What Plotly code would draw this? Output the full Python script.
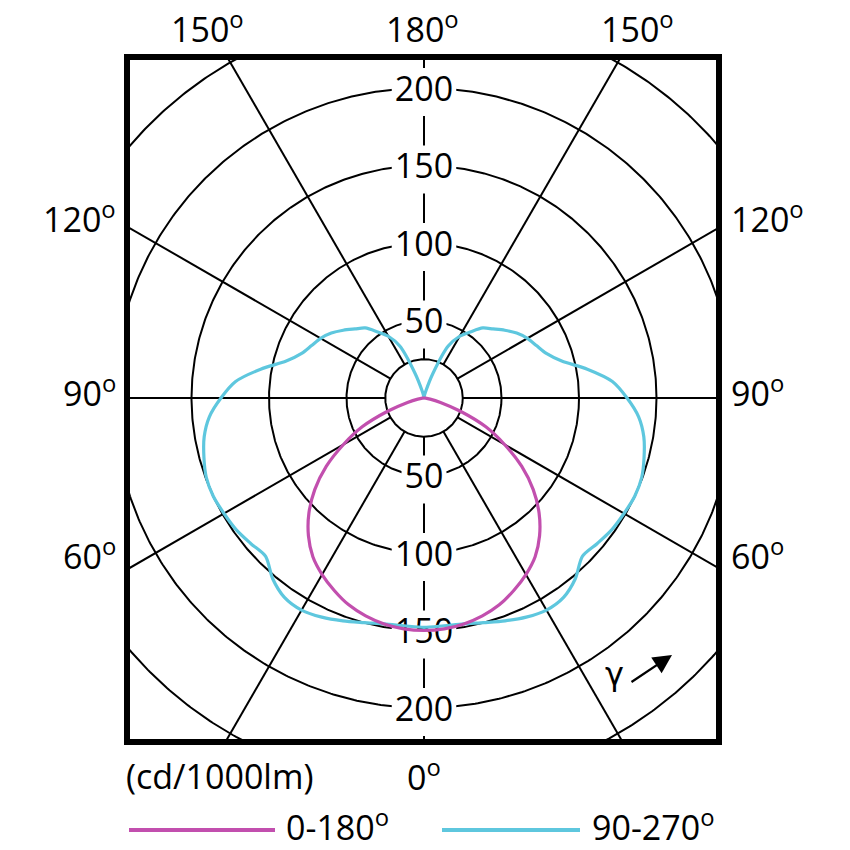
import numpy as np
import plotly.graph_objects as go

# ---------------- data ----------------
# C0-C180 plane (magenta), gamma in degrees, intensity in cd/1000lm
gamma_c0 = [0, 5, 10, 15, 20, 25, 30, 35, 40, 45, 50, 55, 60, 65, 70, 75, 80, 85, 90]
intensity_c0 = [150, 149.5, 148, 145.5, 142, 137, 131.5, 125, 116, 105, 92, 77, 60, 44, 25, 11, 4, 1, 0]

# C90-C270 plane (cyan)
gamma_c90 = [0, 5, 10, 15, 20, 25, 30, 35, 40, 45, 50, 55, 60, 65, 70, 75, 80, 85, 90,
             95, 100, 105, 110, 115, 120, 125, 130, 135, 140, 145, 150, 155, 160, 165, 170, 175, 180]
intensity_c90 = [148, 147.5, 148, 150, 153, 156, 158, 157, 152, 144.5, 146, 148, 149, 150, 149.5, 147, 144, 139, 131,
                 122, 107, 92, 84, 80, 77, 73, 68, 63, 59, 52, 46, 37, 17, 5, 1.5, 0.5, 0]

radial_ticks = [50, 100, 150, 200]
grid_circles = [25, 50, 100, 150, 200, 250]
spoke_angles = [0, 30, 60, 90, 120, 150, 180]
side_angle_labels = ["120", "90", "60"]
top_angle_labels = ["150", "180", "150"]
bottom_angle_label = "0"
unit_label = "(cd/1000lm)"
legend_names = ["0-180", "90-270"]

# ---------------- styling ----------------
FONT = "Open Sans"
MAGENTA = "#c24fae"
CYAN = "#5ec7de"
PX = 1.55  # pixels per cd/1000lm
W, H = 850, 850
ML, MR, MT, MB = 127, 131, 57, 108
CX, CY = 424, 398  # pixel position of the pole

x_range = [-(CX - ML) / PX, (W - MR - CX) / PX]
y_range = [-(H - MB - CY) / PX, (CY - MT) / PX]
PW = W - ML - MR
PH = H - MT - MB


def paper(px, py):
    return (px - ML) / PW, (H - MB - py) / PH


def polar_xy(gamma, r, side):
    g = np.radians(np.asarray(gamma, dtype=float))
    r = np.asarray(r, dtype=float)
    return side * r * np.sin(g), -r * np.cos(g)


fig = go.Figure()

# ---- spokes (from the 25 circle outward) ----
sx, sy = [], []
r_in, r_out = grid_circles[0], 500
for a in spoke_angles:
    sides = [1] if a in (0, 180) else [1, -1]
    for s in sides:
        xx, yy = polar_xy([a, a], [r_in, r_out], s)
        sx += list(xx) + [None]
        sy += list(yy) + [None]
fig.add_trace(go.Scatter(x=sx, y=sy, mode="lines", line=dict(color="black", width=2),
                         hoverinfo="skip"))

# ---- grid circles ----
t = np.linspace(0, 2 * np.pi, 721)
cx_, cy_ = [], []
for rc in grid_circles:
    cx_ += list(rc * np.cos(t)) + [None]
    cy_ += list(rc * np.sin(t)) + [None]
fig.add_trace(go.Scatter(x=cx_, y=cy_, mode="lines", line=dict(color="black", width=2),
                         hoverinfo="skip"))

# ---- white masks behind the radial tick labels ----
digit_px = 19.5
label_shift = -4 / PX  # labels sit a little below their circle
for v in radial_ticks:
    for sgn in (1, -1):
        hw = (len(str(v)) * digit_px / 2 + 3) / PX
        hh = 24 / PX
        yc = sgn * v + label_shift
        fig.add_trace(go.Scatter(x=[-hw, hw, hw, -hw, -hw], y=[yc - hh, yc - hh, yc + hh, yc + hh, yc - hh],
                                 mode="lines", fill="toself", fillcolor="white",
                                 line=dict(width=0, color="white"), hoverinfo="skip"))

# ---- radial tick labels ----
lab_y = [v + label_shift for v in radial_ticks] + [-v + label_shift for v in radial_ticks]
lab_t = [str(v) for v in radial_ticks] * 2
fig.add_trace(go.Scatter(x=[0] * len(lab_y), y=lab_y, mode="text", text=lab_t,
                         textposition="middle center",
                         textfont=dict(family=FONT, size=34, color="black"), hoverinfo="skip"))

# ---- intensity curves ----
g90 = np.array(gamma_c90, dtype=float)
i90 = np.array(intensity_c90, dtype=float)
lx, ly = polar_xy(g90[::-1], i90[::-1], -1)
rx, ry = polar_xy(g90[1:], i90[1:], 1)
fig.add_trace(go.Scatter(x=np.concatenate([lx, rx]), y=np.concatenate([ly, ry]), mode="lines",
                         line=dict(color=CYAN, width=3.2, shape="spline", smoothing=0.8),
                         name="90-270", hoverinfo="skip"))

g0 = np.array(gamma_c0, dtype=float)
i0 = np.array(intensity_c0, dtype=float)
lx, ly = polar_xy(g0[::-1], i0[::-1], -1)
rx, ry = polar_xy(g0[1:], i0[1:], 1)
fig.add_trace(go.Scatter(x=np.concatenate([lx, rx]), y=np.concatenate([ly, ry]), mode="lines",
                         line=dict(color=MAGENTA, width=3.2, shape="spline", smoothing=0.8),
                         name="0-180", hoverinfo="skip"))

# ---------------- annotations ----------------
ann = []
deg = "<sup>o</sup>"
fnt = dict(family=FONT, size=34, color="black")


def add_text(txt, px, py, xanchor="center", font=None):
    x, y = paper(px, py)
    ann.append(dict(text=txt, x=x, y=y, xref="paper", yref="paper", showarrow=False,
                    xanchor=xanchor, yanchor="middle", font=font or fnt))


# top labels
for txt, px in zip(top_angle_labels, [207, 422, 637]):
    add_text(txt + deg, px, 27)
# side labels
for txt, py in zip(side_angle_labels, [217, 391, 554]):
    add_text(txt + deg, 118, py, "right")
    add_text(txt + deg, 729, py, "left")
# bottom
add_text(bottom_angle_label + deg, 424, 776)
add_text(unit_label, 124, 776, "left")
# legend text
add_text(legend_names[0] + deg, 284, 825, "left")
add_text(legend_names[1] + deg, 590, 825, "left")
# gamma with arrow
add_text("\u03b3", 614, 674, font=dict(family="DejaVu Sans", size=32, color="black"))
hx, hy = paper(672, 655)
ann.append(dict(text="", x=hx, y=hy, xref="paper", yref="paper", showarrow=True,
                ax=-42, ay=28, arrowhead=2, arrowsize=1.7, arrowwidth=2.2, arrowcolor="black"))

# legend line keys
shapes = []
for (x0, x1), col in zip([(129, 275), (442, 580)], [MAGENTA, CYAN]):
    a0, b0 = paper(x0, 830)
    a1, b1 = paper(x1, 830)
    shapes.append(dict(type="line", xref="paper", yref="paper", x0=a0, x1=a1, y0=b0, y1=b1,
                       line=dict(color=col, width=4)))
# frame
shapes.append(dict(type="rect", xref="paper", yref="paper", x0=0, x1=1, y0=0, y1=1,
                   line=dict(color="black", width=6), layer="above"))

fig.update_layout(
    width=W, height=H,
    margin=dict(l=ML, r=MR, t=MT, b=MB, pad=0),
    paper_bgcolor="white", plot_bgcolor="white",
    showlegend=False,
    xaxis=dict(range=x_range, visible=False, fixedrange=True),
    yaxis=dict(range=y_range, visible=False, fixedrange=True),
    annotations=ann, shapes=shapes,
)

fig.write_html("out.html", config={"displayModeBar": False},
               post_script="document.body.style.margin='0';document.body.style.overflow='hidden';")
